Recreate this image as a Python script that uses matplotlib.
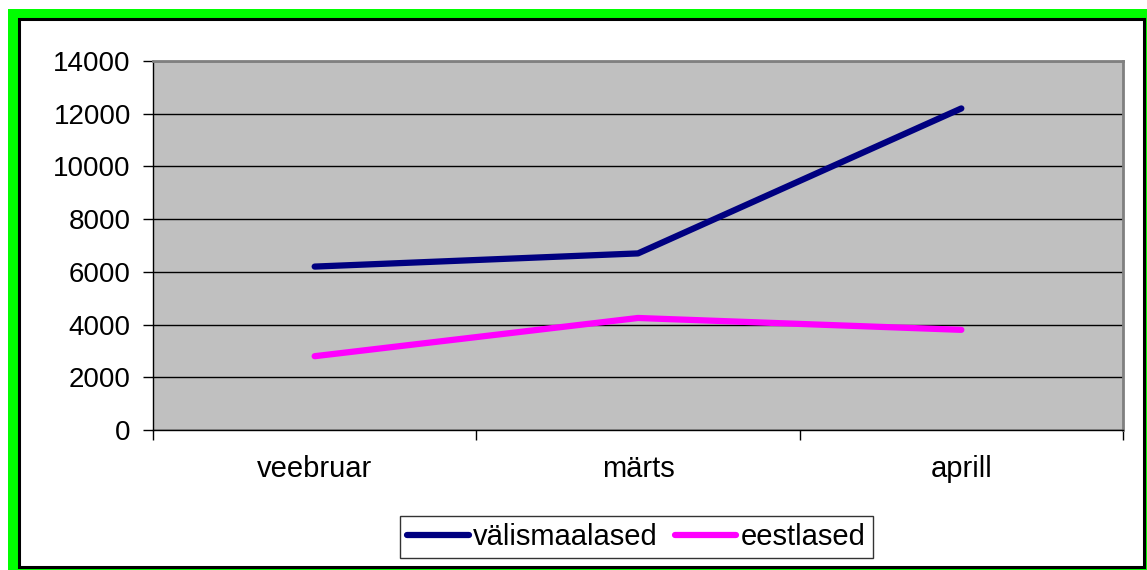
import matplotlib.pyplot as plt
from matplotlib.patches import Rectangle

plt.rcParams['font.family'] = ['Liberation Sans', 'DejaVu Sans']

kuud = ['veebruar', 'märts', 'aprill']
valismaalased = [6200, 6700, 12200]
eestlased = [2800, 4250, 3800]
y_ticks = [0, 2000, 4000, 6000, 8000, 10000, 12000, 14000]

W, H = 1147, 570
fig = plt.figure(figsize=(W / 100, H / 100), dpi=100)

# roheline raam ja must joon sees
fig.patches.append(Rectangle((8 / W, -10 / H), 1.2, (571) / H, transform=fig.transFigure,
                             facecolor='#00ff00', edgecolor='none', zorder=0))
fig.patches.append(Rectangle((19 / W, 3 / H), 1125 / W, 548 / H, transform=fig.transFigure,
                             facecolor='white', edgecolor='black', linewidth=2.2, zorder=1))

ax = fig.add_axes([153 / W, 140 / H, 970 / W, 369 / H])
ax.set_facecolor('#c0c0c0')
ax.set_zorder(2)

x = range(len(kuud))
ax.plot(x, valismaalased, color='#000080', linewidth=4.5, solid_capstyle='round',
        label='välismaalased', zorder=3)
ax.plot(x, eestlased, color='#ff00ff', linewidth=4.5, solid_capstyle='round',
        label='eestlased', zorder=3)

ax.set_ylim(0, 14000)
ax.set_yticks(y_ticks)
ax.set_yticklabels([str(v) for v in y_ticks], fontsize=20)
ax.yaxis.grid(True, color='black', linewidth=1)
ax.set_axisbelow(True)

ax.set_xlim(-0.5, len(kuud) - 0.5)
ax.set_xticks([i - 0.5 for i in range(len(kuud) + 1)])
ax.set_xticklabels([])
ax.set_xticks(list(x), minor=True)
ax.set_xticklabels(kuud, minor=True, fontsize=21)
ax.tick_params(axis='x', which='minor', length=0, pad=18)
ax.tick_params(axis='both', which='major', direction='out', length=7, width=1, color='black')
ax.tick_params(axis='y', pad=9)

for s in ['top', 'right']:
    ax.spines[s].set_color('#808080')
    ax.spines[s].set_linewidth(2)
for s in ['left', 'bottom']:
    ax.spines[s].set_color('black')
    ax.spines[s].set_linewidth(1)

leg = fig.legend(loc='center', bbox_to_anchor=(636.5 / W, 33 / H), ncol=2, fontsize=21,
                 frameon=True, fancybox=False, edgecolor='black', handlelength=2.1,
                 handletextpad=0.15, columnspacing=0.6, borderpad=0.25)
leg.get_frame().set_linewidth(1)
leg.set_zorder(5)

fig.savefig('out.png', dpi=100)
